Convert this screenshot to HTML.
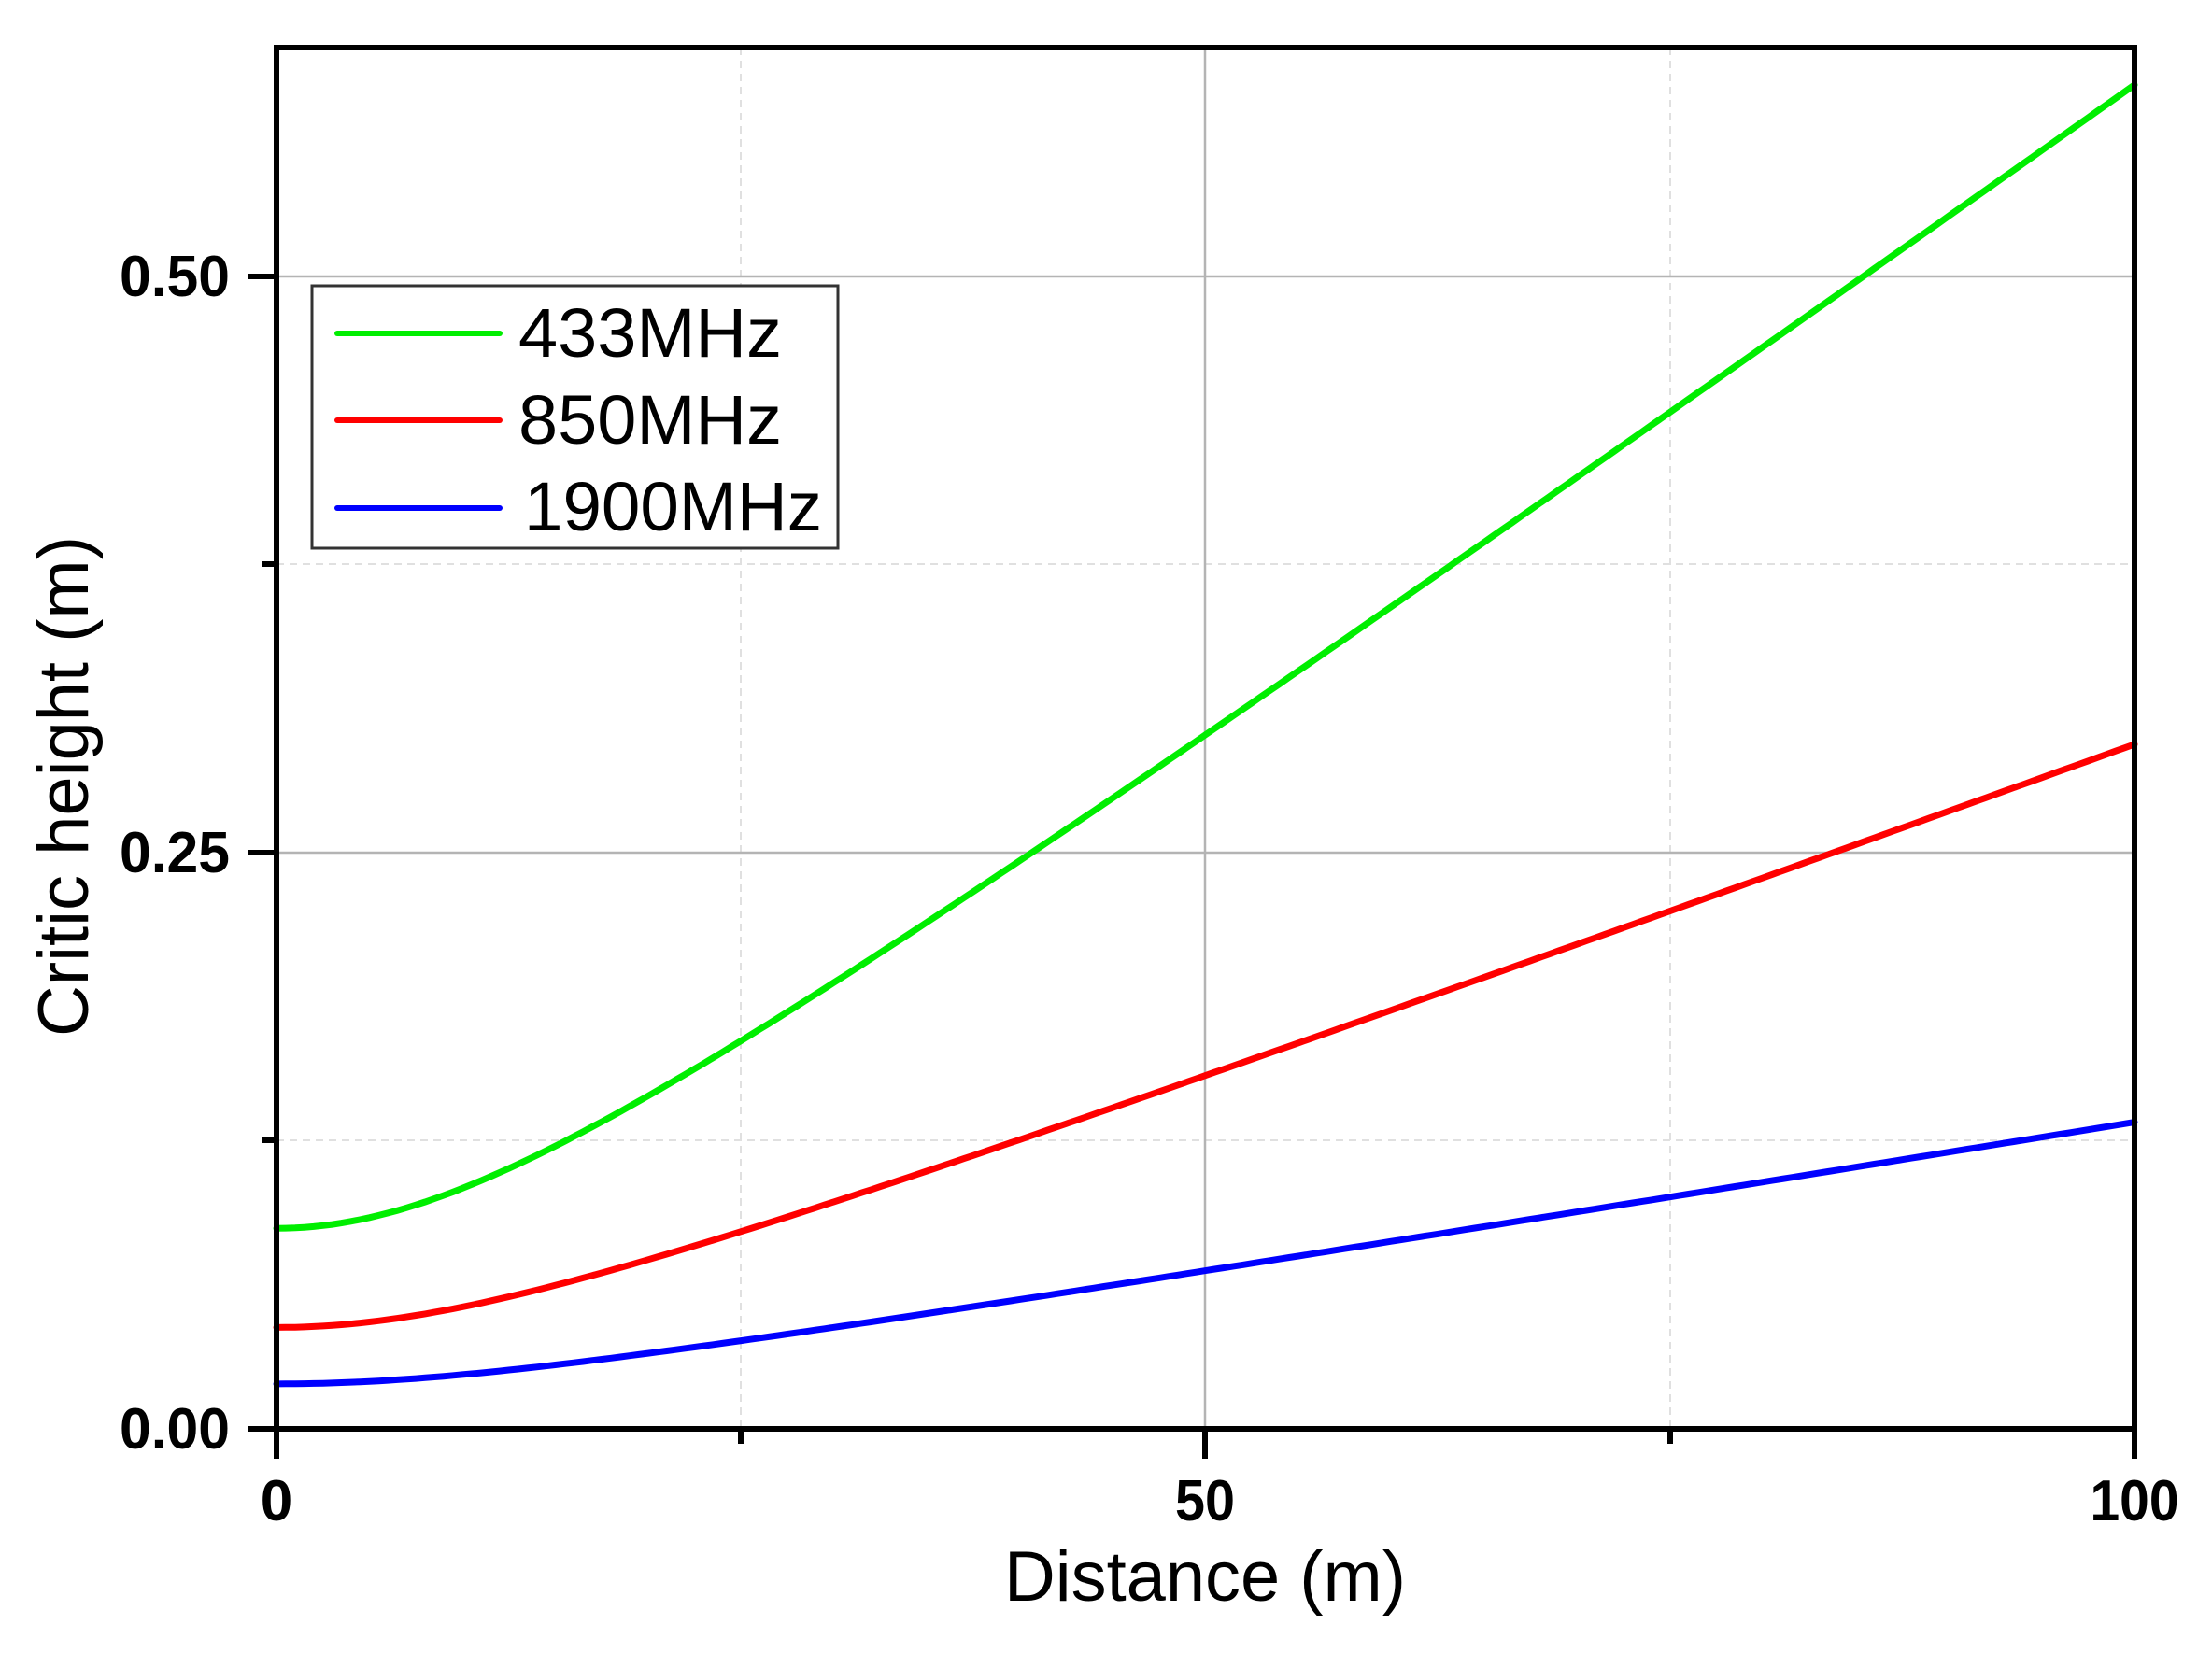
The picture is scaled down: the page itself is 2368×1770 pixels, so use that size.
<!DOCTYPE html>
<html><head><style>html,body{margin:0;padding:0;background:#fff}</style></head><body>
<svg width="2368" height="1765" xmlns="http://www.w3.org/2000/svg" font-family="Liberation Sans, Arial, sans-serif">
<rect width="2368" height="1765" fill="#fff"/>
<g stroke="#e0e0e0" stroke-width="2" stroke-dasharray="8,6">
<line x1="793" y1="51" x2="793" y2="1530"/><line x1="1788" y1="51" x2="1788" y2="1530"/>
<line x1="296" y1="1221" x2="2285" y2="1221"/><line x1="296" y1="604" x2="2285" y2="604"/>
</g>
<g stroke="#b4b4b4" stroke-width="2.5">
<line x1="1290" y1="51" x2="1290" y2="1530"/>
<line x1="296" y1="913" x2="2285" y2="913"/><line x1="296" y1="296" x2="2285" y2="296"/>
</g>
<g fill="none" stroke-width="7" stroke-linecap="round" id="curves"></g>
<g stroke="#000" stroke-width="6" fill="none">
<rect x="296" y="51" width="1989" height="1479"/>
<line x1="265" y1="1530" x2="296" y2="1530"/><line x1="265" y1="913" x2="296" y2="913"/><line x1="265" y1="296" x2="296" y2="296"/>
<line x1="280" y1="1221" x2="296" y2="1221"/><line x1="280" y1="604" x2="296" y2="604"/>
<line x1="296" y1="1530" x2="296" y2="1562"/><line x1="1290" y1="1530" x2="1290" y2="1562"/><line x1="2285" y1="1530" x2="2285" y2="1562"/>
<line x1="793" y1="1530" x2="793" y2="1546"/><line x1="1788" y1="1530" x2="1788" y2="1546"/>
</g>
<g font-weight="bold" font-size="62" fill="#000">
<text x="246" y="1551" text-anchor="end" textLength="118" lengthAdjust="spacingAndGlyphs">0.00</text>
<text x="246" y="934" text-anchor="end" textLength="118" lengthAdjust="spacingAndGlyphs">0.25</text>
<text x="246" y="317" text-anchor="end" textLength="118" lengthAdjust="spacingAndGlyphs">0.50</text>
<text x="296" y="1628" text-anchor="middle">0</text>
<text x="1290" y="1628" text-anchor="middle" textLength="64" lengthAdjust="spacingAndGlyphs">50</text>
<text x="2285" y="1628" text-anchor="middle" textLength="95" lengthAdjust="spacingAndGlyphs">100</text>
</g>
<text x="1075" y="1714" font-size="76" textLength="430" lengthAdjust="spacingAndGlyphs">Distance (m)</text>
<text transform="translate(94,1110) rotate(-90)" font-size="76" textLength="536" lengthAdjust="spacingAndGlyphs">Critic height (m)</text>
<rect x="334" y="306" width="563" height="281" fill="#fff" stroke="#333" stroke-width="3"/>
<g stroke-width="6" stroke-linecap="round">
<line x1="361" y1="357" x2="535" y2="357" stroke="#00ee00"/>
<line x1="361" y1="450" x2="535" y2="450" stroke="#ff0000"/>
<line x1="361" y1="544" x2="535" y2="544" stroke="#0000ff"/>
</g>
<g font-size="74" fill="#000">
<text x="555" y="382" textLength="282" lengthAdjust="spacingAndGlyphs">433MHz</text>
<text x="555" y="475" textLength="282" lengthAdjust="spacingAndGlyphs">850MHz</text>
<text x="561" y="568" textLength="319" lengthAdjust="spacingAndGlyphs">1900MHz</text>
</g>
<script>
(function(){
 var s=[['#00ee00',0.087,0.005765],['#ff0000',0.044,0.002937],['#0000ff',0.0195,0.001316]];
 var svg=document.querySelector('svg');
 var g=svg.querySelector('#curves');
 s.forEach(function(c){
  var d='';
  for(var i=0;i<=200;i++){var x=i/2;var h=Math.sqrt(c[1]*c[1]+Math.pow(c[2]*x,2));
   var px=296+x*19.89, py=1530-h*2468.3;
   d+=(i?'L':'M')+px.toFixed(1)+','+py.toFixed(1);}
  var p=document.createElementNS('http://www.w3.org/2000/svg','path');
  p.setAttribute('d',d);p.setAttribute('stroke',c[0]);g.appendChild(p);
 });
})();
</script>
</svg>
</body></html>
